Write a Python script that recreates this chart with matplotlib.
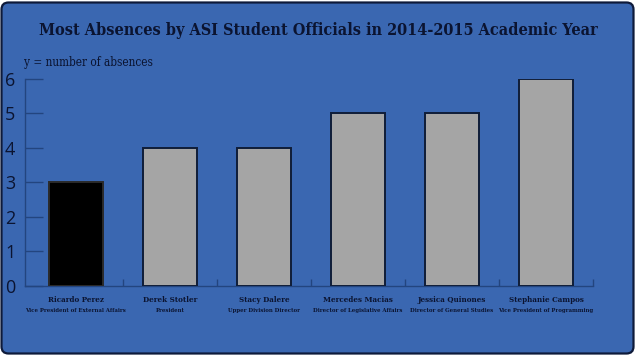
import matplotlib
matplotlib.use("Agg")
import matplotlib.pyplot as plt
from matplotlib.patches import FancyBboxPatch
from matplotlib.transforms import IdentityTransform, blended_transform_factory

# ---------------------------------------------------------------------------
# Data
# ---------------------------------------------------------------------------
names = ["Ricardo Perez", "Derek Stotler", "Stacy Dalere",
         "Mercedes Macias", "Jessica Quinones", "Stephanie Campos"]
roles = ["Vice President of External Affairs", "President",
         "Upper Division Director", "Director of Legislative Affairs",
         "Director of General Studies", "Vice President of Programming"]
absences = [3, 4, 4, 5, 5, 6]
y_ticks = [0, 1, 2, 3, 4, 5, 6]

# ---------------------------------------------------------------------------
# Style
# ---------------------------------------------------------------------------
BG = "#3a67b1"
INK = "#0b1431"
SPINE = "#23457f"
SERIF = dict(family="DejaVu Serif", fontstretch="condensed")

fig = plt.figure(figsize=(6.36, 3.55), dpi=100, facecolor="white")

# rounded blue panel with dark frame
panel = FancyBboxPatch((1.5, 1.5), 632, 351,
                       boxstyle="round,pad=0,rounding_size=7",
                       transform=IdentityTransform(),
                       facecolor=BG, edgecolor="#0e1a3a", linewidth=1.6,
                       zorder=-5)
fig.add_artist(panel)

ax = fig.add_axes([0.0393, 0.1944, 0.8931, 0.5831])
ax.set_zorder(2)
ax.set_facecolor("none")

colors = ["black"] + ["#a5a5a5"] * (len(absences) - 1)
edges = ["#2b2b2b"] + ["#0f1d38"] * (len(absences) - 1)
x = list(range(len(absences)))
ax.bar(x, absences, width=0.58, color=colors, edgecolor=edges,
       linewidth=1.4, zorder=3)

ax.set_xlim(-0.54, len(absences) - 0.5)
ax.set_ylim(0, 6)

for side in ("top", "right"):
    ax.spines[side].set_visible(False)
for side in ("left", "bottom"):
    ax.spines[side].set_color(SPINE)
    ax.spines[side].set_linewidth(1.0)

ax.set_yticks(y_ticks)
ax.set_yticklabels([str(v) for v in y_ticks], fontsize=13,
                   family=["Open Sans", "DejaVu Sans"], color=INK)
ax.tick_params(axis="y", direction="in", length=13, width=1.0,
               color=SPINE, pad=7)

ax.set_xticks([i + 0.5 for i in x])
ax.set_xticklabels([])
ax.tick_params(axis="x", direction="in", length=5, width=1.0, color=SPINE)

trans = blended_transform_factory(ax.transData, ax.transAxes)
for i, (n, r) in enumerate(zip(names, roles)):
    ax.text(i, -0.068, n, transform=trans, ha="center", va="center",
            fontsize=5.8, fontweight="bold", color=INK, **SERIF)
    ax.text(i, -0.118, r, transform=trans, ha="center", va="center",
            fontsize=4.3, fontweight="bold", color=INK, **SERIF)

fig.text(0.5, 0.915,
         "Most Absences by ASI Student Officials in 2014-2015 Academic Year",
         ha="center", va="center", fontsize=11.6, fontweight="bold",
         color=INK, **SERIF)
fig.text(0.0377, 0.825, "y = number of absences", ha="left", va="center",
         fontsize=8.5, color=INK, **SERIF)

fig.savefig("out.png", dpi=100, facecolor="white")
